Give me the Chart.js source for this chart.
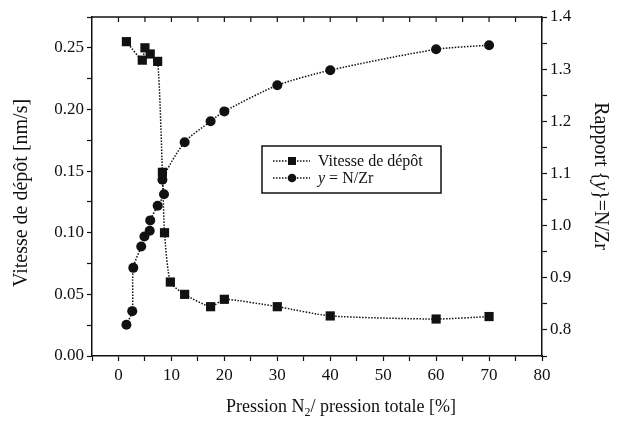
<!DOCTYPE html>
<html>
<head>
<meta charset="utf-8">
<script src="https://cdn.jsdelivr.net/npm/chart.js@4.4.1/dist/chart.umd.min.js"></script>
<style>
  html, body { margin: 0; padding: 0; background: #fff; }
  #wrap { width: 618px; height: 421px; position: relative; }
</style>
</head>
<body>
<div id="wrap"><canvas id="c" width="618" height="421"></canvas></div>
<script>
// ---- Data ----
const rateX  = [1.5, 4.5, 5.0, 6.0, 7.4, 8.3, 8.7, 9.8, 12.5, 17.4, 20, 30, 40, 60, 70];
const rateY  = [0.255, 0.240, 0.250, 0.245, 0.239, 0.149, 0.100, 0.060, 0.050, 0.040, 0.046, 0.040, 0.0325, 0.030, 0.032];
const ratioX = [1.5, 2.6, 2.8, 4.3, 4.9, 5.9, 6.0, 7.4, 8.6, 8.3, 12.5, 17.4, 20, 30, 40, 60, 70];
const ratioY = [0.81, 0.836, 0.919, 0.96, 0.979, 0.99, 1.01, 1.038, 1.06, 1.088, 1.16, 1.20, 1.219, 1.269, 1.298, 1.338, 1.346];
const seriesNames = ['Vitesse de dépôt', 'y = N/Zr'];
const xTitle = ['Pression N', '2', '/ pression totale [%]'];
const yLeftTitle = 'Vitesse de dépôt [nm/s]';
const yRightTitle = ['Rapport {', 'y', '}=N/Zr'];

const serif = '"Liberation Serif", "DejaVu Serif", serif';
const ink = '#111';

const toPts = (xs, ys) => xs.map((x, i) => ({ x, y: ys[i] }));

const decor = {
  id: 'decor',
  afterDraw(chart) {
    const ctx = chart.ctx;
    const a = chart.chartArea;
    const xs = chart.scales.x;
    ctx.save();
    // top frame line + inward ticks
    ctx.strokeStyle = ink;
    ctx.lineWidth = 1.5;
    ctx.beginPath();
    ctx.moveTo(a.left, a.top);
    ctx.lineTo(a.right, a.top);
    ctx.stroke();
    ctx.lineWidth = 1.2;
    for (let v = 0; v <= 80; v += 5) {
      const px = xs.getPixelForValue(v);
      ctx.beginPath();
      ctx.moveTo(px, a.top);
      ctx.lineTo(px, a.top + 5);
      ctx.stroke();
    }
    // Axis titles
    ctx.fillStyle = ink;
    ctx.textBaseline = 'middle';
    const fV = '20px ' + serif, fVI = 'italic 20px ' + serif;
    // left title
    ctx.save();
    ctx.font = fV;
    ctx.translate(22, 193);
    ctx.rotate(-Math.PI / 2);
    ctx.textAlign = 'center';
    ctx.fillText(yLeftTitle, 0, 0);
    ctx.restore();
    // right title (mixed italic)
    ctx.save();
    ctx.translate(600, 176);
    ctx.rotate(Math.PI / 2);
    ctx.textAlign = 'left';
    ctx.font = fV; const w0 = ctx.measureText(yRightTitle[0]).width;
    ctx.font = fVI; const w1 = ctx.measureText(yRightTitle[1]).width;
    ctx.font = fV; const w2 = ctx.measureText(yRightTitle[2]).width;
    let sx = -(w0 + w1 + w2) / 2;
    ctx.font = fV; ctx.fillText(yRightTitle[0], sx, 0); sx += w0;
    ctx.font = fVI; ctx.fillText(yRightTitle[1], sx, 0); sx += w1;
    ctx.font = fV; ctx.fillText(yRightTitle[2], sx, 0);
    ctx.restore();
    // bottom title with subscript
    {
      const fN = '18px ' + serif;
      ctx.textAlign = 'left';
      ctx.font = fN; const b0 = ctx.measureText(xTitle[0]).width;
      ctx.font = '12px ' + serif; const b1 = ctx.measureText(xTitle[1]).width;
      ctx.font = fN; const b2 = ctx.measureText(xTitle[2]).width;
      let bx = 341 - (b0 + b1 + b2) / 2;
      const by = 407;
      ctx.font = fN; ctx.fillText(xTitle[0], bx, by); bx += b0;
      ctx.font = '12px ' + serif; ctx.fillText(xTitle[1], bx, by + 6); bx += b1;
      ctx.font = fN; ctx.fillText(xTitle[2], bx, by);
    }
    // Legend box
    const L = { x: 262, y: 146, w: 179, h: 47 };
    ctx.lineWidth = 1.5;
    ctx.strokeStyle = ink;
    ctx.strokeRect(L.x, L.y, L.w, L.h);
    const rows = [161, 178];
    rows.forEach((ry, i) => {
      ctx.save();
      ctx.setLineDash([1.5, 1.5]);
      ctx.lineWidth = 1.5;
      ctx.beginPath();
      ctx.moveTo(273, ry);
      ctx.lineTo(310, ry);
      ctx.stroke();
      ctx.restore();
      ctx.fillStyle = ink;
      if (i === 0) {
        ctx.fillRect(288, ry - 4, 8, 8);
      } else {
        ctx.beginPath();
        ctx.arc(292, ry, 4.3, 0, Math.PI * 2);
        ctx.fill();
      }
    });
    ctx.textAlign = 'left';
    ctx.font = '16px ' + serif;
    ctx.fillText(seriesNames[0], 318, rows[0] + 1);
    ctx.font = 'italic 16px ' + serif;
    ctx.fillText('y', 318, rows[1] + 1);
    const wy = ctx.measureText('y').width;
    ctx.font = '16px ' + serif;
    ctx.fillText(' = N/Zr', 318 + wy, rows[1] + 1);
    ctx.restore();
  }
};

const tickFont = { family: serif, size: 17 };

new Chart(document.getElementById('c'), {
  type: 'line',
  data: {
    datasets: [
      {
        label: seriesNames[0],
        data: toPts(rateX, rateY),
        yAxisID: 'y',
        borderColor: ink,
        backgroundColor: ink,
        borderWidth: 1.5,
        borderDash: [1.5, 1.5],
        pointStyle: 'rect',
        pointRadius: 6.5,
        pointBackgroundColor: ink,
        pointBorderWidth: 0,
        tension: 0.2,
        fill: false
      },
      {
        label: seriesNames[1],
        data: toPts(ratioX, ratioY),
        yAxisID: 'y2',
        borderColor: ink,
        backgroundColor: ink,
        borderWidth: 1.5,
        borderDash: [1.5, 1.5],
        pointStyle: 'circle',
        pointRadius: 5,
        pointBackgroundColor: ink,
        pointBorderWidth: 0,
        tension: 0.25,
        fill: false
      }
    ]
  },
  options: {
    responsive: false,
    animation: false,
    devicePixelRatio: 1,
    layout: { padding: { top: 17, left: 0, right: 0, bottom: 0 } },
    plugins: { legend: { display: false }, tooltip: { enabled: false } },
    scales: {
      x: {
        type: 'linear',
        position: 'bottom',
        min: -5, max: 80,
        afterFit(s) { s.height = 65; },
        ticks: {
          stepSize: 5,
          font: tickFont, color: ink, padding: 4, maxRotation: 0, autoSkip: false,
          callback: (v) => (v >= 0 && v % 10 === 0) ? String(v) : ''
        },
        grid: { drawOnChartArea: false, drawTicks: true, tickLength: 5, color: ink, tickWidth: 1.2 },
        border: { display: true, color: ink, width: 1.5 }
      },
      y: {
        type: 'linear',
        position: 'left',
        min: 0, max: 0.275,
        afterFit(s) { s.width = 92; },
        ticks: {
          stepSize: 0.025,
          font: tickFont, color: ink, padding: 3, autoSkip: false,
          callback: (v) => (Math.round(v * 1000) % 50 === 0) ? v.toFixed(2) : ''
        },
        grid: { drawOnChartArea: false, drawTicks: true, tickLength: 5, color: ink, tickWidth: 1.2 },
        border: { display: true, color: ink, width: 1.5 }
      },
      y2: {
        type: 'linear',
        position: 'right',
        min: 0.75, max: 1.4,
        afterFit(s) { s.width = 76; },
        ticks: {
          stepSize: 0.05,
          font: tickFont, color: ink, padding: 3, autoSkip: false,
          callback: (v) => (Math.round(v * 100) % 10 === 0) ? v.toFixed(1) : ''
        },
        grid: { drawOnChartArea: false, drawTicks: true, tickLength: 5, color: ink, tickWidth: 1.2 },
        border: { display: true, color: ink, width: 1.5 }
      }
    }
  },
  plugins: [decor]
});
</script>
</body>
</html>
